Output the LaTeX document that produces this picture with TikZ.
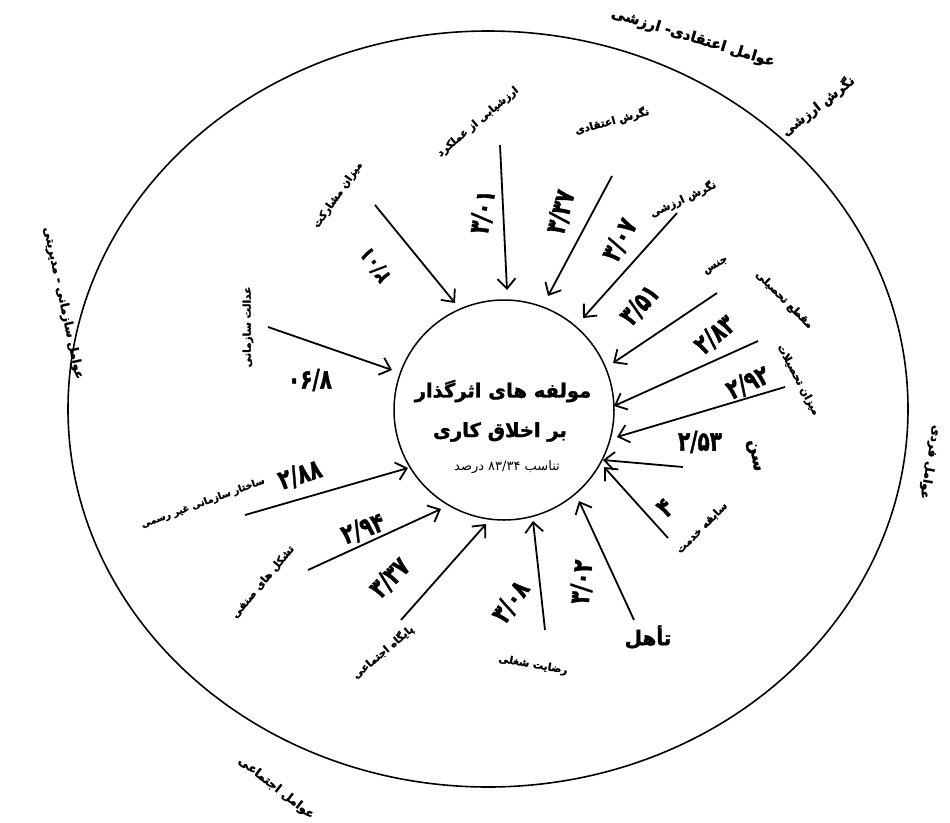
\documentclass[tikz,border=0pt]{standalone}
\usepackage{fontspec}
\usetikzlibrary{arrows.meta}
\TeXXeTstate=1
\newfontfamily\fa[Script=Arabic, BoldFeatures={FakeBold=1.6}]{DejaVu Sans}
\newcommand\rtl[1]{\beginR #1\endR}
\begin{document}
\begin{tikzpicture}[x=1pt,y=-1pt,
  lab/.style={font=\fa\bfseries\fontsize{10.5}{12}\selectfont, inner sep=1pt},
  num/.style={font=\fa\bfseries\fontsize{20}{22}\selectfont, inner sep=1pt},
  outlab/.style={font=\fa\bfseries\fontsize{12}{14}\selectfont, inner sep=1pt},
  title/.style={font=\fa\bfseries\fontsize{19.5}{22}\selectfont, inner sep=1pt},
  arr/.style={-{Straight Barb[length=10pt,width=18pt,line width=1.8pt]}, line width=1.8pt}]
\useasboundingbox[fill=white] (0,0) rectangle (950,822);
% outer ellipse and core circle
\draw[line width=1.6pt] (488,409) ellipse [x radius=420, y radius=378];
\node[circle, draw, line width=1.5pt, minimum size=220pt, inner sep=0pt] (core) at (504,410) {};
\node[title] (t1) at (503,391) {\rtl{مولفه های اثرگذار}};
\node[title] (t2) at (500,432) {\rtl{بر اخلاق کاری}};
\node[font=\fa\fontsize{13}{15}\selectfont, inner sep=1pt] (t3) at (507,467) {\rtl{تناسب ۸۳/۳۴ درصد}};
% arrow coordinates
\coordinate (a1) at (268,327);  \coordinate (b1) at (392,370);
\coordinate (a2) at (375,205);  \coordinate (b2) at (455,303);
\coordinate (a3) at (500,145);  \coordinate (b3) at (507,290);
\coordinate (a4) at (612,176);  \coordinate (b4) at (548,296);
\coordinate (a5) at (677,213);  \coordinate (b5) at (583,318);
\coordinate (a6) at (717,293);  \coordinate (b6) at (613,363);
\coordinate (a7) at (758,341);  \coordinate (b7) at (614,406);
\coordinate (a8) at (785,387);  \coordinate (b8) at (617,437);
\coordinate (a9) at (683,467);  \coordinate (b9) at (603,460);
\coordinate (a10) at (668,538); \coordinate (b10) at (604,467);
\coordinate (a11) at (634,620); \coordinate (b11) at (579,501);
\coordinate (a12) at (545,630); \coordinate (b12) at (533,521);
\coordinate (a13) at (401,620); \coordinate (b13) at (486,524);
\coordinate (a14) at (308,570); \coordinate (b14) at (441,509);
\coordinate (a15) at (245,515); \coordinate (b15) at (408,468);
\foreach \i in {1,...,15} {\draw[arr] (a\i) -- (b\i);}
% labels
\node[lab, rotate=90] (l1) at (248,327) {\rtl{عدالت سازمانی}};
\node[lab, rotate=55] (l2) at (338,195) {\rtl{میزان مشارکت}};
\node[lab, rotate=40] (l3) at (478,122) {\rtl{ارزشیابی از عملکرد}};
\node[lab, rotate=15] (l4) at (612,121) {\rtl{نگرش اعتقادی}};
\node[lab, rotate=25] (l5) at (683,199) {\rtl{نگرش ارزشی}};
\node[lab, rotate=30] (l6) at (716,266) {\rtl{جنس}};
\node[lab, rotate=-45] (l7) at (784,300) {\rtl{مقطع تحصیلی}};
\node[lab, rotate=-62] (l8) at (798,380) {\rtl{میزان تحصیلات}};
\node[lab, rotate=-80, font=\fa\bfseries\fontsize{17}{19}\selectfont] (l9) at (753,456) {\rtl{سن}};
\node[lab, rotate=45] (l10) at (702,528) {\rtl{سابقه خدمت}};
\node[lab, font=\fa\bfseries\fontsize{20}{22}\selectfont] (l11) at (648,637) {\rtl{تأهل}};
\node[lab, rotate=-10] (l12) at (533,665) {\rtl{رضایت شغلی}};
\node[lab, rotate=40] (l13) at (383,652) {\rtl{پایگاه اجتماعی}};
\node[lab, rotate=50] (l14) at (263,582) {\rtl{تشکل های صنفی}};
\node[lab, rotate=20, font=\fa\bfseries\fontsize{9.5}{11}\selectfont] (l15) at (203,503) {\rtl{ساختار سازمانی غیر رسمی}};
% numbers
\node[num, rotate=0, yscale=1.35] (n1) at (310,380) {۰۶/۸};
\node[num, rotate=125, yscale=1.25, font=\fa\bfseries\fontsize{17}{19}\selectfont] (n2) at (375,265) {۲/۰۱};
\node[num, rotate=80, yscale=1.35] (n3) at (483,212) {۳/۰۱};
\node[num, rotate=75, yscale=1.35] (n4) at (561,212) {۳/۳۷};
\node[num, rotate=62, yscale=1.35] (n5) at (620,240) {۳/۰۷};
\node[num, rotate=48, yscale=1.35] (n6) at (640,305) {۳/۵۱};
\node[num, rotate=40, yscale=1.35] (n7) at (715,335) {۲/۸۳};
\node[num, rotate=25, yscale=1.35] (n8) at (748,383) {۲/۹۲};
\node[num, rotate=0, yscale=1.35] (n9) at (700,442) {۲/۵۳};
\node[num, rotate=40, yscale=1.35] (n10) at (665,508) {۴};
\node[num, rotate=85, yscale=1.35] (n11) at (582,582) {۳/۰۲};
\node[num, rotate=55, yscale=1.35] (n12) at (511,602) {۳/۰۸};
\node[num, rotate=45, yscale=1.35] (n13) at (390,578) {۳/۳۷};
\node[num, rotate=20, yscale=1.35] (n14) at (363,529) {۲/۹۴};
\node[num, rotate=18, yscale=1.35] (n15) at (300,475) {۲/۸۸};
% outer labels
\node[outlab, rotate=-17, font=\fa\bfseries\fontsize{14.5}{17}\selectfont] (o1) at (693,38) {\rtl{عوامل اعتقادی- ارزشی}};
\node[outlab, rotate=38, font=\fa\bfseries\fontsize{13}{15}\selectfont] (o2) at (818,106) {\rtl{نگرش ارزشی}};
\node[outlab, rotate=-78] (o3) at (63,303) {\rtl{عوامل سازمانی - مدیریتی}};
\node[outlab, rotate=-100] (o4) at (930,462) {\rtl{عوامل فردی}};
\node[outlab, rotate=-38] (o5) at (276,788) {\rtl{عوامل اجتماعی}};
\end{tikzpicture}
\end{document}
